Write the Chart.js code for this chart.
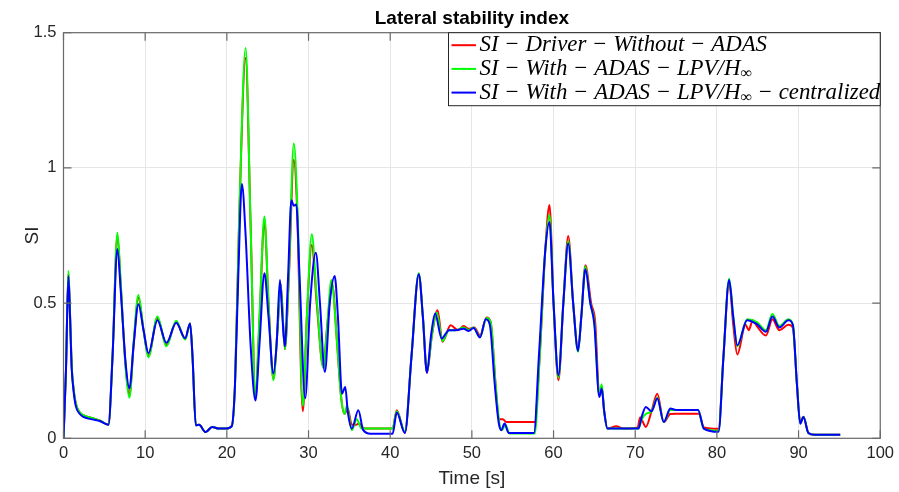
<!DOCTYPE html>
<html>
<head>
<meta charset="utf-8">
<script src="https://cdn.jsdelivr.net/npm/chart.js@4.4.1/dist/chart.umd.min.js"></script>
<style>
  html, body { margin: 0; padding: 0; background: #fff; }
  #wrap { width: 899px; height: 492px; }
</style>
</head>
<body>
<div id="wrap"><canvas id="si" width="899" height="492"></canvas></div>
<script>
// time [s] and SI values, one pair of arrays per curve
const tRed = [0, 0.3, 0.6, 0.8, 1.0, 1.2, 1.5, 2, 2.5, 3.5, 4.5, 5.5, 6.0, 6.6, 7.0, 7.6, 8.07, 8.6, 9.17, 9.8, 10.4, 11.5, 12.6, 13.8, 14.9, 15.5, 15.8, 16.2, 16.6, 17.4, 18.2, 19.0, 19.9, 20.6,
  21.0, 21.5, 22.3, 22.9, 23.5, 24.0, 24.6, 25.1, 25.7, 26.2, 26.6, 27.1, 27.6, 28.2, 28.6, 29.3, 29.8, 30.4, 31.0, 31.8, 32.3, 32.9, 33.5, 34.0, 34.4, 34.8, 35.3, 35.8, 36.2, 36.8, 40.3,
  40.8, 41.8, 42.6, 43.5, 44.0, 44.5, 45.1, 45.8, 46.4, 47.4, 48.3, 49.0, 49.6, 50.3, 51.0, 51.8, 52.3, 52.9, 53.3, 53.8, 54.2, 57.7,
  58.3, 59.0, 59.5, 60.0, 60.6, 61.2, 61.8, 62.4, 63.0, 63.4, 63.9, 64.6, 65.1, 65.6, 65.9, 66.2, 66.6, 67.7, 68.5, 70.3, 70.6, 71.3, 72.0, 72.7, 73.5, 74.3, 75.0, 77.8, 78.4, 80.2,
  80.8, 81.5, 82.0, 82.5, 83.5, 83.9, 84.4, 84.9, 86.0, 86.8, 87.65, 88.75, 89.3, 89.8, 90.2, 90.6, 91.2, 92.0, 95.1];
const siRed = [0, 0.25, 0.61, 0.46, 0.27, 0.19, 0.13, 0.095, 0.085, 0.075, 0.065, 0.05, 0.3, 0.75, 0.57, 0.27, 0.16, 0.35, 0.52, 0.40, 0.305, 0.445, 0.345, 0.43, 0.368, 0.425, 0.3, 0.048, 0.05, 0.023, 0.042, 0.036, 0.036, 0.045,
  0.2, 0.8, 1.406, 0.8, 0.15, 0.44, 0.80, 0.5, 0.22, 0.4, 0.57, 0.33, 0.6, 1.03, 0.85, 0.10, 0.45, 0.715, 0.5, 0.265, 0.42, 0.57, 0.35, 0.15, 0.09, 0.11, 0.05, 0.05, 0.055, 0.036, 0.036,
  0.104, 0.02, 0.3, 0.607, 0.45, 0.242, 0.38, 0.474, 0.357, 0.418, 0.40, 0.415, 0.405, 0.41, 0.38, 0.447, 0.43, 0.2, 0.07, 0.07, 0.06, 0.06,
  0.3, 0.7, 0.863, 0.5, 0.215, 0.5, 0.748, 0.5, 0.33, 0.45, 0.64, 0.5, 0.43, 0.16, 0.19, 0.1, 0.036, 0.045, 0.036, 0.04, 0.077, 0.042, 0.10, 0.165, 0.06, 0.09, 0.091, 0.091, 0.04, 0.035,
  0.3, 0.58, 0.42, 0.31, 0.42, 0.40, 0.437, 0.415, 0.38, 0.44, 0.40, 0.42, 0.41, 0.2, 0.06, 0.08, 0.02, 0.013, 0.013];

const tGreen = [0, 0.3, 0.6, 0.8, 1.0, 1.2, 1.5, 2, 2.5, 3.5, 4.5, 5.5, 6.0, 6.6, 7.0, 7.6, 8.07, 8.6, 9.17, 9.8, 10.4, 11.5, 12.6, 13.8, 14.9, 15.5, 15.8, 16.2, 16.6, 17.4, 18.2, 19.0, 19.9, 20.6,
  21.0, 21.5, 22.3, 22.9, 23.5, 24.0, 24.6, 25.1, 25.7, 26.2, 26.6, 27.1, 27.6, 28.2, 28.7, 29.3, 29.8, 30.4, 31.0, 31.8, 32.3, 32.8, 33.5, 34.0, 34.4, 34.7, 35.3, 35.9, 36.5, 40.3,
  40.8, 41.8, 42.6, 43.5, 44.0, 44.5, 45.1, 45.7, 46.4, 47.2, 48.0, 49.0, 49.6, 50.2, 51.0, 51.8, 52.3, 52.9, 53.4, 53.7, 54.1, 54.6, 57.7,
  58.3, 59.0, 59.5, 60.0, 60.6, 61.2, 61.8, 62.4, 63.0, 63.4, 63.9, 64.5, 65.0, 65.6, 65.9, 66.2, 66.6, 70.4, 70.8, 71.3, 72.0, 72.7, 73.5, 74.3, 75.0, 77.7, 78.4, 80.2,
  80.8, 81.5, 82.0, 82.5, 83.7, 84.9, 86.0, 86.8, 87.65, 88.75, 89.3, 89.8, 90.2, 90.6, 91.2, 92.0, 95.1];
const siGreen = [0, 0.25, 0.62, 0.46, 0.27, 0.195, 0.13, 0.095, 0.085, 0.075, 0.065, 0.05, 0.3, 0.76, 0.58, 0.26, 0.15, 0.36, 0.53, 0.40, 0.30, 0.45, 0.34, 0.435, 0.365, 0.425, 0.3, 0.048, 0.05, 0.023, 0.042, 0.036, 0.036, 0.045,
  0.2, 0.8, 1.443, 0.8, 0.155, 0.45, 0.82, 0.5, 0.215, 0.4, 0.57, 0.33, 0.62, 1.09, 0.8, 0.12, 0.45, 0.755, 0.52, 0.26, 0.42, 0.585, 0.35, 0.15, 0.09, 0.12, 0.03, 0.07, 0.036, 0.036,
  0.10, 0.025, 0.3, 0.61, 0.45, 0.245, 0.38, 0.465, 0.36, 0.40, 0.40, 0.41, 0.40, 0.41, 0.375, 0.445, 0.43, 0.2, 0.05, 0.03, 0.05, 0.018, 0.018,
  0.3, 0.7, 0.826, 0.5, 0.225, 0.5, 0.73, 0.5, 0.32, 0.45, 0.635, 0.5, 0.43, 0.16, 0.2, 0.1, 0.036, 0.036, 0.07, 0.09, 0.10, 0.15, 0.06, 0.105, 0.105, 0.105, 0.036, 0.028,
  0.3, 0.59, 0.45, 0.34, 0.44, 0.43, 0.40, 0.46, 0.415, 0.44, 0.42, 0.2, 0.055, 0.08, 0.02, 0.013, 0.013];

const tBlue = [0, 0.3, 0.6, 0.8, 1.0, 1.2, 1.5, 2, 2.5, 3.5, 4.5, 5.5, 6.0, 6.6, 7.0, 7.6, 8.07, 8.6, 9.17, 9.8, 10.4, 11.5, 12.6, 13.8, 14.9, 15.5, 15.8, 16.2, 16.6, 17.4, 18.2, 19.0, 19.9, 20.6,
  21.0, 21.4, 21.84, 22.3, 22.9, 23.5, 24.0, 24.6, 25.1, 25.7, 26.1, 26.5, 26.8, 27.1, 27.5, 27.9, 28.2, 28.5, 28.9, 29.6, 30.2, 30.9, 31.4, 32.0, 32.6, 33.2, 33.6, 34.1, 34.5, 34.8, 35.3, 36.1, 36.7, 37.6, 40.3,
  40.8, 41.8, 42.6, 43.5, 44.0, 44.5, 45.0, 45.5, 46.3, 47.2, 48.0, 49.0, 49.6, 50.2, 51.0, 51.7, 52.2, 52.8, 53.3, 53.6, 54.0, 54.5, 57.6,
  58.2, 59.0, 59.5, 60.0, 60.6, 61.2, 61.8, 62.4, 63.0, 63.4, 63.9, 64.5, 65.0, 65.6, 65.9, 66.2, 66.6, 70.4, 70.8, 71.3, 72.0, 72.7, 73.5, 74.3, 75.0, 77.7, 78.4, 80.2,
  80.8, 81.5, 82.0, 82.5, 83.7, 84.9, 86.0, 86.8, 87.65, 88.75, 89.3, 89.8, 90.2, 90.6, 91.2, 92.0, 95.1];
const siBlue = [0, 0.25, 0.60, 0.45, 0.26, 0.185, 0.12, 0.09, 0.078, 0.07, 0.063, 0.05, 0.3, 0.70, 0.55, 0.28, 0.185, 0.35, 0.496, 0.40, 0.315, 0.437, 0.353, 0.427, 0.37, 0.425, 0.3, 0.048, 0.05, 0.023, 0.042, 0.036, 0.036, 0.045,
  0.2, 0.6, 0.94, 0.75, 0.35, 0.14, 0.35, 0.61, 0.45, 0.24, 0.35, 0.585, 0.45, 0.34, 0.6, 0.88, 0.86, 0.865, 0.6, 0.148, 0.5, 0.686, 0.5, 0.245, 0.5, 0.60, 0.45, 0.165, 0.19, 0.1, 0.036, 0.104, 0.03, 0.017, 0.017,
  0.095, 0.02, 0.3, 0.607, 0.45, 0.242, 0.38, 0.462, 0.369, 0.40, 0.40, 0.405, 0.397, 0.408, 0.373, 0.44, 0.42, 0.2, 0.055, 0.03, 0.055, 0.02, 0.02,
  0.3, 0.7, 0.80, 0.5, 0.233, 0.5, 0.72, 0.5, 0.323, 0.45, 0.625, 0.5, 0.42, 0.153, 0.184, 0.1, 0.036, 0.036, 0.08, 0.116, 0.10, 0.147, 0.06, 0.11, 0.105, 0.105, 0.036, 0.024,
  0.3, 0.585, 0.45, 0.344, 0.437, 0.422, 0.394, 0.45, 0.41, 0.437, 0.42, 0.2, 0.054, 0.079, 0.02, 0.013, 0.013];

const xTicks = [0, 10, 20, 30, 40, 50, 60, 70, 80, 90, 100];
const yTicks = [0, 0.5, 1, 1.5];

const legendLabels = [
  [{ t: 'SI − Driver − Without − ADAS' }],
  [{ t: 'SI − With − ADAS − LPV/H' }, { t: '∞', sub: true }],
  [{ t: 'SI − With − ADAS − LPV/H' }, { t: '∞', sub: true }, { t: ' − centralized' }]
];
const colors = ['#ff0000', '#00ff00', '#0000ff'];

const pairs = (t, v) => t.map((x, i) => ({ x: x, y: v[i] }));

// MATLAB-like box, inward ticks, title and legend inside the axes
const matlabFrame = {
  id: 'matlabFrame',
  afterDatasetsDraw(chart) {
    const { ctx, chartArea: a, scales } = chart;
    ctx.save();
    ctx.strokeStyle = '#6a6a6a';
    ctx.lineWidth = 1.2;
    ctx.strokeRect(a.left, a.top, a.right - a.left, a.bottom - a.top);
    ctx.beginPath();
    xTicks.forEach(v => {
      const px = scales.x.getPixelForValue(v);
      ctx.moveTo(px, a.bottom); ctx.lineTo(px, a.bottom - 8);
      ctx.moveTo(px, a.top); ctx.lineTo(px, a.top + 8);
    });
    yTicks.forEach(v => {
      const py = scales.y.getPixelForValue(v);
      ctx.moveTo(a.left, py); ctx.lineTo(a.left + 8, py);
      ctx.moveTo(a.right, py); ctx.lineTo(a.right - 8, py);
    });
    ctx.stroke();

    // title
    ctx.fillStyle = '#000';
    ctx.font = 'bold 19px "Liberation Sans", Arial, sans-serif';
    ctx.textAlign = 'center';
    ctx.textBaseline = 'middle';
    ctx.fillText('Lateral stability index', (a.left + a.right) / 2, 19);

    // legend
    const bx = 448, by = a.top, bw = a.right - 448, bh = 73;
    ctx.fillStyle = '#fff';
    ctx.fillRect(bx, by, bw, bh);
    ctx.strokeStyle = '#262626';
    ctx.lineWidth = 1;
    ctx.strokeRect(bx + 0.5, by, bw - 0.5, bh);

    let size = 20;
    const fontOf = (s) => 'italic ' + s + 'px "Liberation Serif", "DejaVu Serif", serif';
    const widthOf = (parts, s) => parts.reduce((w, p) => {
      ctx.font = fontOf(p.sub ? s * 0.7 : s);
      return w + ctx.measureText(p.t).width;
    }, 0);
    size = size * 401 / widthOf(legendLabels[2], size);

    ctx.textAlign = 'left';
    ctx.textBaseline = 'middle';
    legendLabels.forEach((parts, i) => {
      const cy = by + 12.5 + i * 23.7;
      ctx.strokeStyle = colors[i];
      ctx.lineWidth = 2;
      ctx.beginPath();
      ctx.moveTo(451.5, cy); ctx.lineTo(476, cy);
      ctx.stroke();
      let x = 479.5;
      ctx.fillStyle = '#000';
      parts.forEach(p => {
        const s = p.sub ? size * 0.7 : size;
        ctx.font = fontOf(s);
        ctx.fillText(p.t, x, cy + (p.sub ? 5 : 0));
        x += ctx.measureText(p.t).width;
      });
    });
    ctx.restore();
  }
};

const data = {
  datasets: [
    { label: 'SI-Driver-Without-ADAS', data: pairs(tRed, siRed), borderColor: colors[0], order: 3 },
    { label: 'SI-With-ADAS-LPV/Hinf', data: pairs(tGreen, siGreen), borderColor: colors[1], order: 2 },
    { label: 'SI-With-ADAS-LPV/Hinf-centralized', data: pairs(tBlue, siBlue), borderColor: colors[2], order: 1 }
  ]
};
data.datasets.forEach(d => {
  d.borderWidth = 2;
  d.pointRadius = 0;
  d.fill = false;
  d.cubicInterpolationMode = 'monotone';
});

const tickFont = { family: '"Liberation Sans", Arial, sans-serif', size: 16.5 };
const titleFont = { family: '"Liberation Sans", Arial, sans-serif', size: 19 };

const config = {
  type: 'line',
  data: data,
  options: {
    responsive: false,
    animation: false,
    devicePixelRatio: 1,
    layout: { padding: { top: 32.7, right: 16, left: 0, bottom: 0 } },
    plugins: { legend: { display: false }, tooltip: { enabled: false }, title: { display: false } },
    scales: {
      x: {
        type: 'linear', min: 0, max: 100,
        afterBuildTicks: (s) => { s.ticks = xTicks.map(v => ({ value: v })); },
        ticks: { font: tickFont, color: '#262626', padding: 5, maxRotation: 0, callback: (v) => String(v) },
        grid: { color: '#e6e6e6', drawTicks: false },
        border: { display: false },
        title: { display: true, text: 'Time [s]', font: titleFont, color: '#262626', padding: { top: 0, bottom: 2 } },
        afterFit: (s) => { s.height = 492 - 438.3; }
      },
      y: {
        min: 0, max: 1.5,
        afterBuildTicks: (s) => { s.ticks = yTicks.map(v => ({ value: v })); },
        ticks: { font: tickFont, color: '#262626', padding: 7, callback: (v) => String(v) },
        grid: { color: '#e6e6e6', drawTicks: false },
        border: { display: false },
        title: { display: true, text: 'SI', font: titleFont, color: '#262626', padding: { top: 21, bottom: 0 } },
        afterFit: (s) => { s.width = 63.5; }
      }
    }
  },
  plugins: [matlabFrame]
};

new Chart(document.getElementById('si').getContext('2d'), config);
</script>
</body>
</html>
